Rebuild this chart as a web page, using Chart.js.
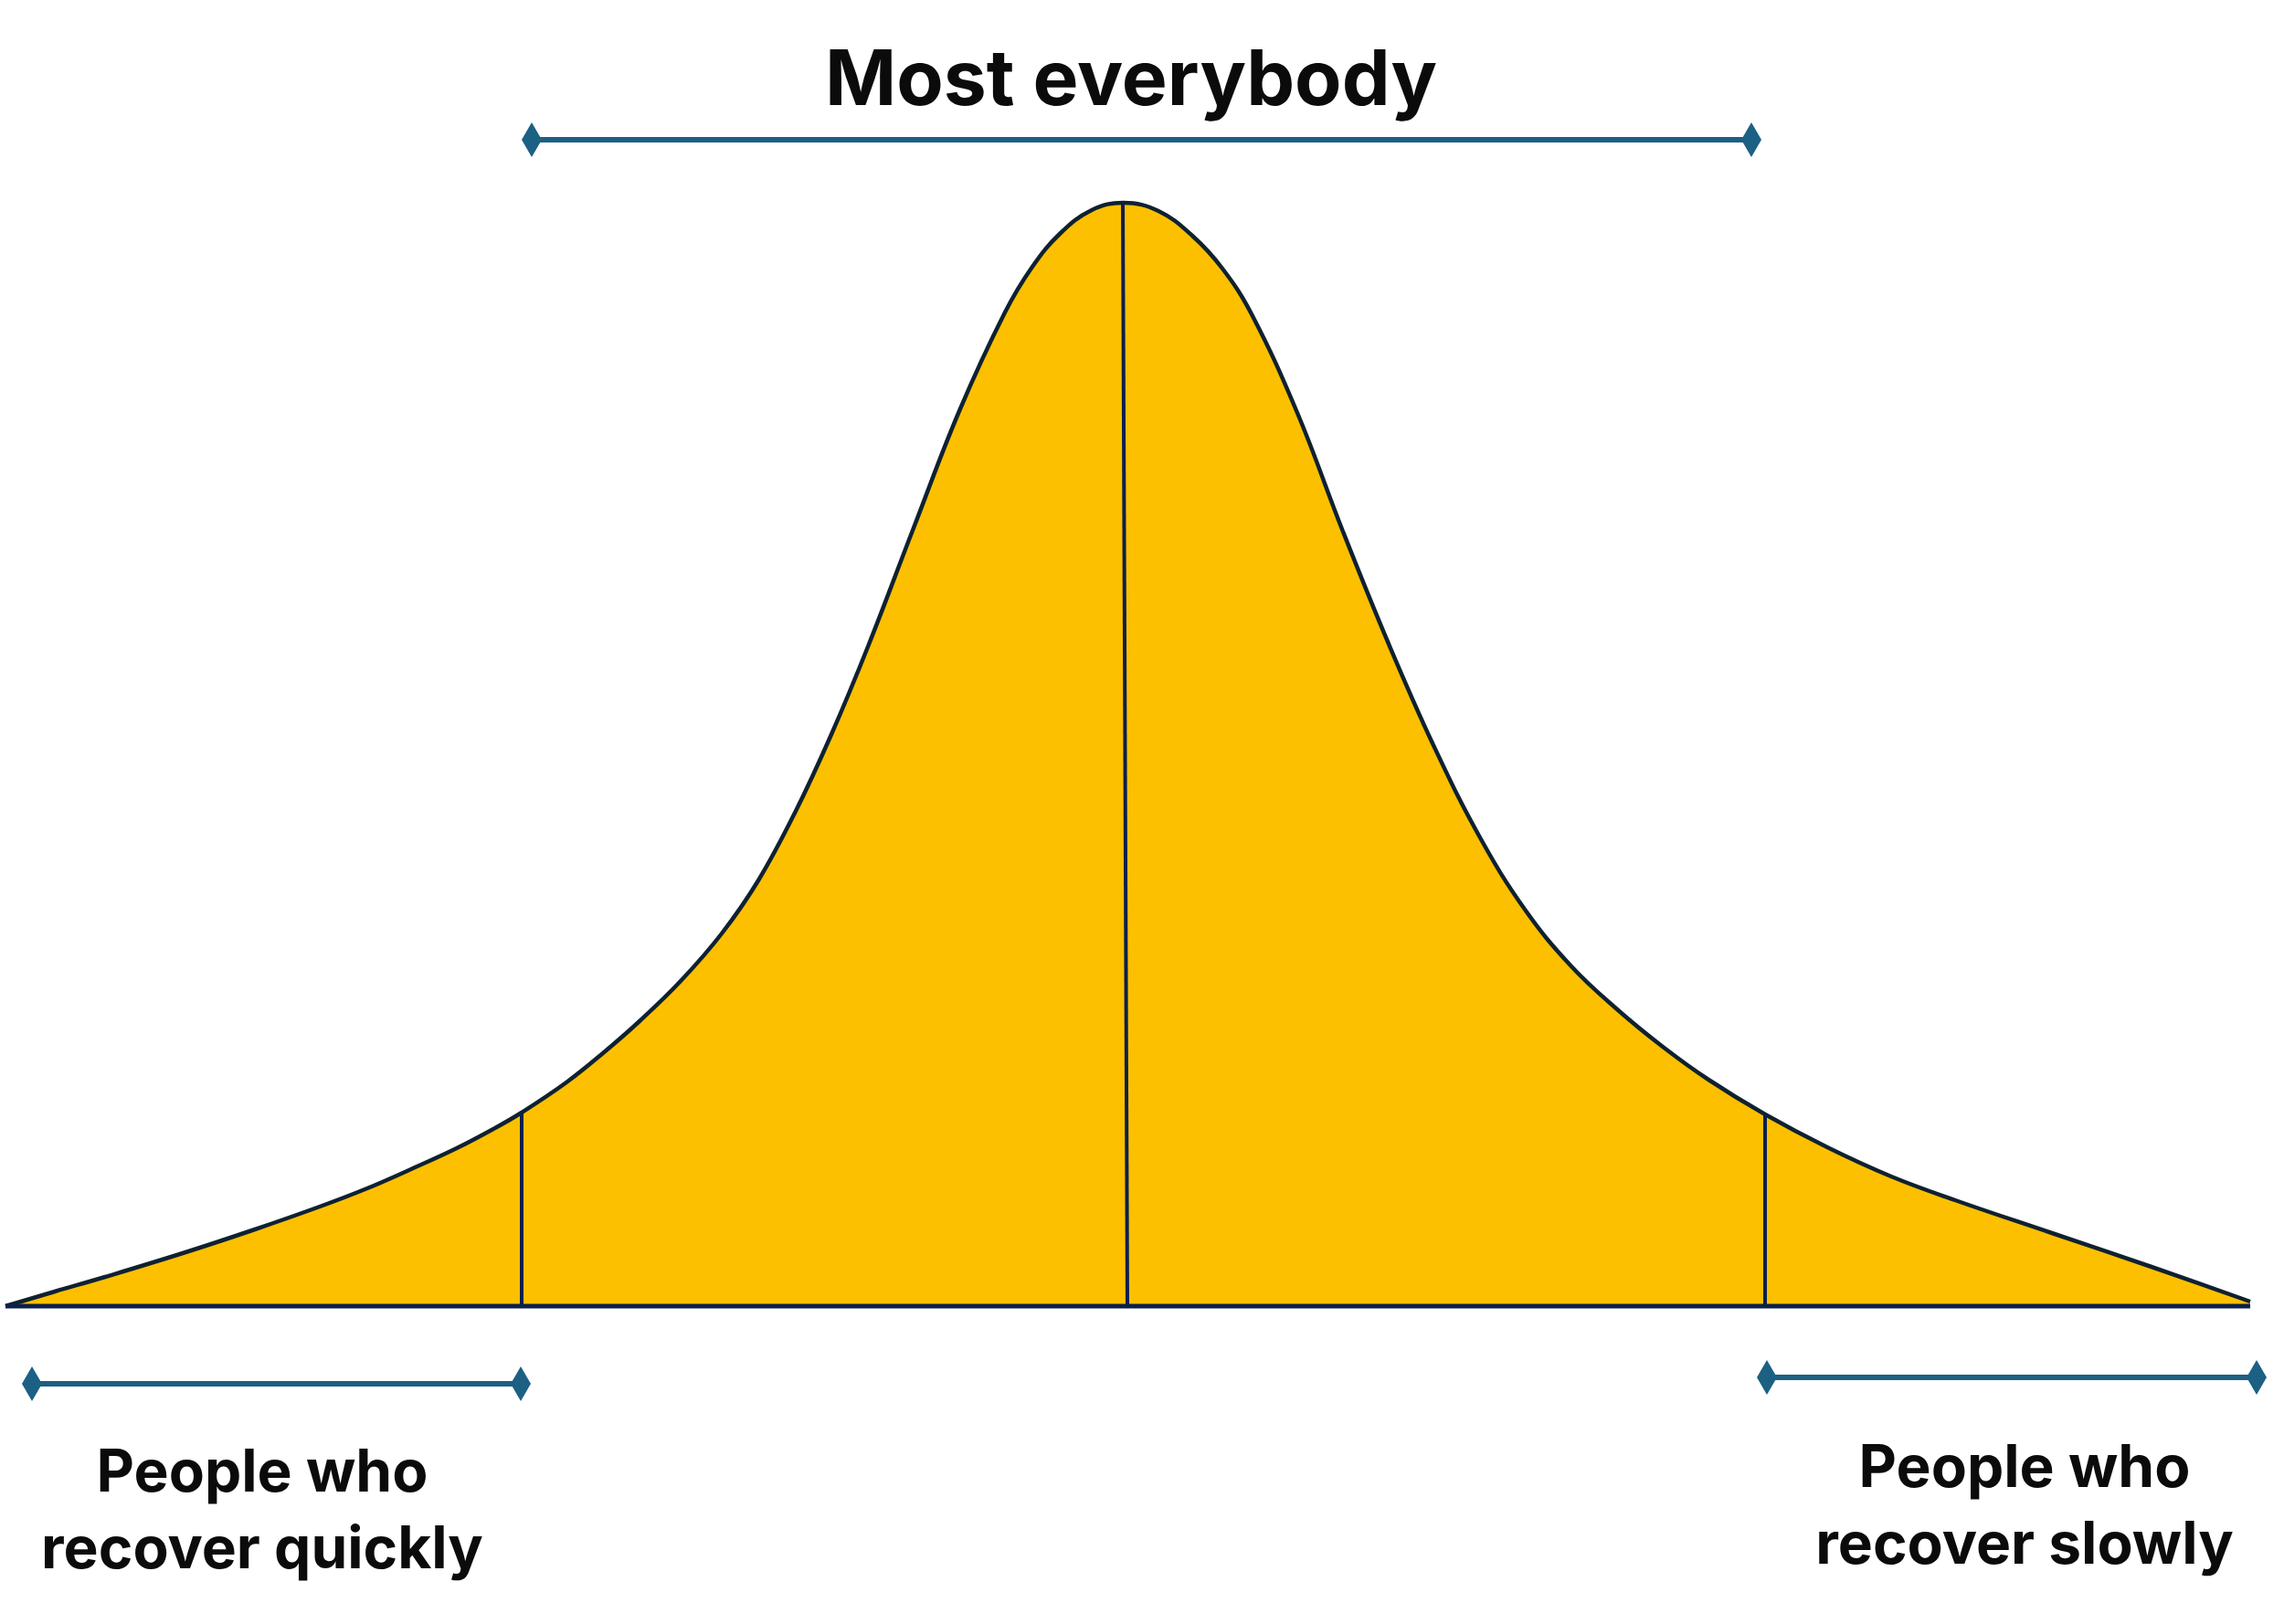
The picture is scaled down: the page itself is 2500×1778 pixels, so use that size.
<!DOCTYPE html>
<html>
<head>
<meta charset="utf-8">
<title>Recovery curve</title>
<script src="https://cdn.jsdelivr.net/npm/chart.js@4.4.1/dist/chart.umd.min.js"></script>
<style>
  html, body { margin: 0; padding: 0; background: #fff; }
  #wrap { width: 2500px; height: 1778px; }
</style>
</head>
<body>
<div id="wrap"><canvas id="curveChart" width="2500" height="1778"></canvas></div>
<script>
// bell curve outline (x = recovery time, y = number of people)
const curveX = [6, 60, 115, 200, 276, 350, 402, 450, 500, 540, 571, 620, 660, 700, 746, 790, 830, 870, 910,
                950, 1000, 1050, 1100, 1130, 1160, 1195, 1230, 1268, 1305, 1338, 1370, 1420, 1470, 1520,
                1570, 1620, 1670, 1720, 1770, 1820, 1870, 1932, 2000, 2070, 2140, 2246, 2355, 2463];
const curveY = [0, 16, 32, 58, 83, 109, 129, 150, 173, 194, 212, 245, 277, 312, 357, 408, 466, 540, 626,
                722, 852, 980, 1088, 1138, 1174, 1200, 1208, 1199, 1172, 1136, 1086, 978, 848, 725,
                612, 513, 433, 372, 325, 284, 248, 210, 174, 142, 116, 80, 43, 5];

// baseline
const axisStart = 6;
const axisEnd = 2463;

// dividers between the three groups
const splitTopX = [571, 1229, 1932];
const splitBottomX = [571, 1234, 1932];
const splitTopY = [212, 1208, 210];

// range markers (diamond ends) for each group
const rangeStart = [35, 582, 1934];
const rangeEnd = [570, 1917, 2470];
const rangeLevel = [-85, 1277, -78];

const groupLabels = [
  ["People who", "recover quickly"],
  ["Most everybody"],
  ["People who", "recover slowly"],
];

const curveFill = "#fdc000";
const curveLine = "#0f2131";
const navy = "#0b1f4b";
const teal = "#1c6084";

// tall diamond used as the end marker of the range lines
function makeDiamond(w, h, color) {
  const c = document.createElement("canvas");
  c.width = w;
  c.height = h;
  const g = c.getContext("2d");
  g.fillStyle = color;
  g.beginPath();
  g.moveTo(w / 2, 0);
  g.lineTo(w, h / 2);
  g.lineTo(w / 2, h);
  g.lineTo(0, h / 2);
  g.closePath();
  g.fill();
  return c;
}
const diamond = makeDiamond(22, 38, teal);

// where the group texts sit (in chart units) and how big they are
const labelSpots = [
  { x: 287, y: -203, size: 64, lineGap: 84 },
  { x: 1238, y: 1315, size: 84, lineGap: 0 },
  { x: 2216, y: -198, size: 64, lineGap: 84 },
];

const labelPlugin = {
  id: "groupLabels",
  afterDatasetsDraw(chart) {
    const { ctx, scales } = chart;
    ctx.save();
    ctx.fillStyle = "#0b0b0b";
    ctx.textAlign = "center";
    ctx.textBaseline = "alphabetic";
    groupLabels.forEach((lines, i) => {
      const spot = labelSpots[i];
      ctx.font = `700 ${spot.size}px Inter`;
      const px = scales.x.getPixelForValue(spot.x);
      const py = scales.y.getPixelForValue(spot.y);
      lines.forEach((line, k) => ctx.fillText(line, px, py + k * spot.lineGap));
    });
    ctx.restore();
  },
};

const datasets = [];

// the bell curve itself, filled down to the baseline
datasets.push({
  data: curveX.map((x, i) => ({ x: x, y: curveY[i] })),
  borderColor: curveLine,
  borderWidth: 4.5,
  borderJoinStyle: "round",
  backgroundColor: curveFill,
  fill: "origin",
  pointRadius: 0,
  tension: 0.4,
  order: 10,
});

// baseline
datasets.push({
  data: [{ x: axisStart, y: 0 }, { x: axisEnd, y: 0 }],
  borderColor: navy,
  borderWidth: 5,
  pointRadius: 0,
  fill: false,
  order: 1,
});

// vertical dividers
splitTopX.forEach((x, i) => {
  datasets.push({
    data: [{ x: x, y: splitTopY[i] }, { x: splitBottomX[i], y: 0 }],
    borderColor: navy,
    borderWidth: 4,
    pointRadius: 0,
    fill: false,
    order: 2,
  });
});

// range lines with diamond ends
rangeStart.forEach((x, i) => {
  datasets.push({
    data: [{ x: x, y: rangeLevel[i] }, { x: rangeEnd[i], y: rangeLevel[i] }],
    borderColor: teal,
    borderWidth: 6,
    pointStyle: diamond,
    pointRadius: 11,
    fill: false,
    order: 0,
  });
});

new Chart(document.getElementById("curveChart"), {
  type: "line",
  data: { datasets: datasets },
  options: {
    responsive: false,
    animation: false,
    layout: { padding: 0, autoPadding: false },
    plugins: { legend: { display: false }, tooltip: { enabled: false } },
    scales: {
      x: { type: "linear", min: 0, max: 2500, display: false },
      y: { type: "linear", min: -348, max: 1430, display: false },
    },
  },
  plugins: [labelPlugin],
});
</script>
</body>
</html>
